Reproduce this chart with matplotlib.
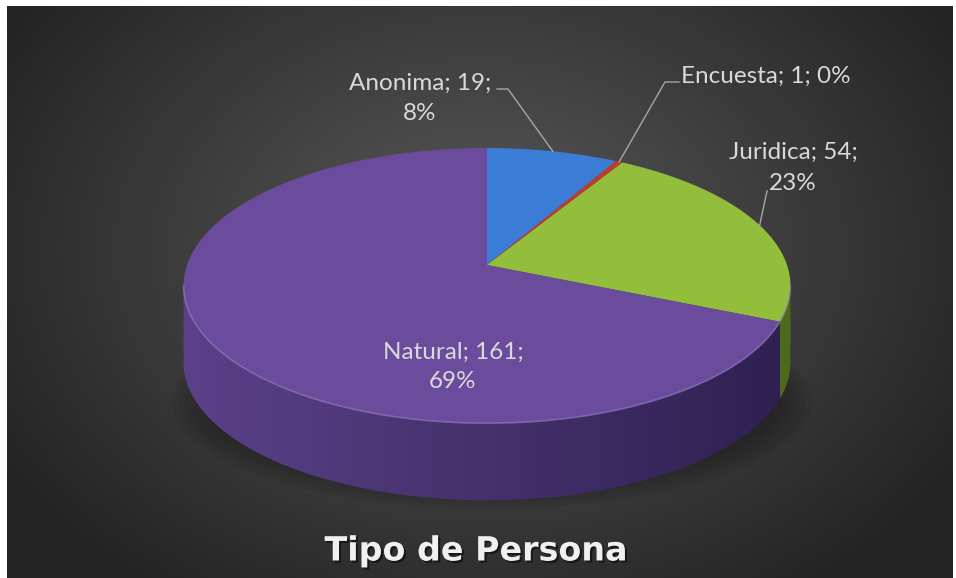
import numpy as np
import matplotlib.pyplot as plt
from matplotlib.patches import Polygon, Ellipse
import matplotlib.patheffects as pe

# datos
categorias = ['Anonima', 'Encuesta', 'Juridica', 'Natural']
valores = [19, 1, 54, 161]
titulo = 'Tipo de Persona'

colores_top = ['#3b7dd6', '#c23a2c', '#92be3c', '#6b4c9c']
colores_lado = [('#2c5fa6', '#1f4680'), ('#8e2a20', '#6b1f18'),
                ('#6e9128', '#4d6a1a'), ('#5b4189', '#2e2050')]

# geometria del pastel (pixeles)
CX, CY = 487, 265
A, B, K = 300, 134.5, 0.15
PROF = 77


def proyectar(t, r=1.0):
    u = r * np.sin(t)
    v = r * np.cos(t)
    w = 1 + K * v
    return CX + A * u / w, CY - B * v / w


fig = plt.figure(figsize=(9.56, 5.78), dpi=100)
fig.patch.set_facecolor('white')
ax = fig.add_axes([0, 0, 1, 1])
ax.set_xlim(0, 956)
ax.set_ylim(578, 0)
ax.axis('off')

# fondo con degradado radial
gx, gy = np.meshgrid(np.linspace(7, 953, 400), np.linspace(6, 578, 250))
dist = np.sqrt(((gx - 480) / 560) ** 2 + ((gy - 250) / 420) ** 2)
dist = np.clip(dist, 0, 1)
fondo = 0.35 - 0.21 * dist
ax.imshow(np.dstack([fondo] * 3), extent=[7, 953, 578, 6], aspect='auto',
          interpolation='bicubic', zorder=0)

# sombra
for i in range(12):
    e = Ellipse((CX + 5, 402), 640 - i * 12, 215 - i * 8, facecolor='black',
                alpha=0.045, edgecolor='none', zorder=1)
    ax.add_patch(e)

total = sum(valores)
angulos = np.concatenate([[0], np.cumsum(valores)]) / total * 2 * np.pi
t_der = np.pi - np.arcsin(np.sqrt(1 - K ** 2))
t_izq = 2 * np.pi - t_der

# lados
for i in range(len(valores)):
    t0 = max(angulos[i], t_der)
    t1 = min(angulos[i + 1], t_izq)
    if t1 <= t0:
        continue
    ts = np.linspace(t0, t1, 200)
    xs, ys = proyectar(ts)
    pts = np.column_stack([np.concatenate([xs, xs[::-1]]),
                           np.concatenate([ys, ys[::-1] + PROF])])
    poly = Polygon(pts, closed=True, facecolor='none', edgecolor='none', zorder=2)
    ax.add_patch(poly)
    c0 = np.array(plt.matplotlib.colors.to_rgb(colores_lado[i][0]))
    c1 = np.array(plt.matplotlib.colors.to_rgb(colores_lado[i][1]))
    grad = np.linspace(0, 1, 256)[None, :, None]
    img = c0 * (1 - grad) + c1 * grad
    im = ax.imshow(np.repeat(img, 2, axis=0), extent=[183, 792, 520, 250],
                   aspect='auto', zorder=2)
    im.set_clip_path(poly)

# caras superiores
for i in range(len(valores)):
    ts = np.linspace(angulos[i], angulos[i + 1], 200)
    xs, ys = proyectar(ts)
    pts = np.column_stack([np.concatenate([[CX], xs]), np.concatenate([[CY], ys])])
    ax.add_patch(Polygon(pts, closed=True, facecolor=colores_top[i],
                         edgecolor='none', zorder=3))

# brillo del borde frontal
ts = np.linspace(t_der, t_izq, 300)
xs, ys = proyectar(ts)
ax.plot(xs, ys, color='#9a80c8', lw=1.2, alpha=0.6, zorder=4)

# etiquetas
fuente = 'Lato'
tam = 17.5
color_txt = '#d9d9d9'
color_linea = '#a6a6a6'
medios = (angulos[:-1] + angulos[1:]) / 2
textos = [f'{c}; {v};' for c, v in zip(categorias, valores)]
pct = [f'{v / total:.0%}' for v in valores]

# Anonima
ax.text(420, 83, textos[0], ha='center', va='center', fontsize=tam,
        color=color_txt, family=fuente, zorder=5)
ax.text(420, 114, pct[0], ha='center', va='center', fontsize=tam,
        color=color_txt, family=fuente, zorder=5)
x, y = proyectar(medios[0])
ax.plot([497, 508, x], [89, 89, y], color=color_linea, lw=1, zorder=5)

# Encuesta
ax.text(681, 76, f'{textos[1]} {pct[1]}', ha='left', va='center', fontsize=tam,
        color=color_txt, family=fuente, zorder=5)
x, y = proyectar(medios[1])
ax.plot([679, 665, x], [82, 82, y], color=color_linea, lw=1, zorder=5)

# Juridica
ax.text(793, 152, textos[2], ha='center', va='center', fontsize=tam,
        color=color_txt, family=fuente, zorder=5)
ax.text(793, 183, pct[2], ha='center', va='center', fontsize=tam,
        color=color_txt, family=fuente, zorder=5)
x, y = proyectar(medios[2])
ax.plot([767, x], [191, y], color=color_linea, lw=1, zorder=5)

# Natural
ax.text(453, 352, textos[3], ha='center', va='center', fontsize=tam,
        color=color_txt, family=fuente, zorder=5)
ax.text(453, 382, pct[3], ha='center', va='center', fontsize=tam,
        color=color_txt, family=fuente, zorder=5)

# titulo
ax.text(476, 551, titulo, ha='center', va='center', fontsize=24,
        fontweight='bold', color='#f0f0f0', family='DejaVu Sans', zorder=5,
        path_effects=[pe.withSimplePatchShadow(offset=(1.5, -1.5),
                                               shadow_rgbFace='black', alpha=0.5)])

fig.savefig('out.png', dpi=100)
